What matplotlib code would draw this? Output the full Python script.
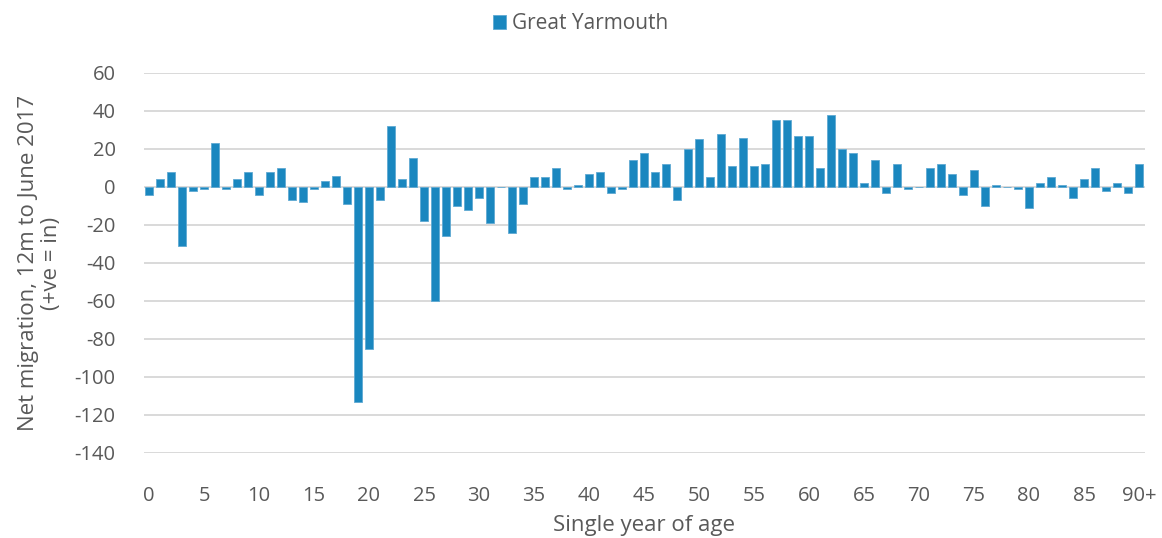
import matplotlib.pyplot as plt
import numpy as np

plt.rcParams['font.family'] = ['Open Sans', 'DejaVu Sans']
plt.rcParams['axes.unicode_minus'] = False

# Net migration by single year of age, Great Yarmouth
ages = list(range(91))
net_migration = [
    -4, 4, 8, -31, -2, -1, 23, -1, 4, 8,
    -4, 8, 10, -7, -8, -1, 3, 6, -9, -113,
    -85, -7, 32, 4, 15, -18, -60, -26, -10, -12,
    -6, -19, 0, -24, -9, 5, 5, 10, -1, 1,
    7, 8, -3, -1, 14, 18, 8, 12, -7, 20,
    25, 5, 28, 11, 26, 11, 12, 35, 35, 27,
    27, 10, 38, 20, 18, 2, 14, -3, 12, -1,
    0, 10, 12, 7, -4, 9, -10, 1, 0, -1,
    -11, 2, 5, 1, -6, 4, 10, -2, 2, -3,
    12,
]
tick_ages = list(range(0, 91, 5))
tick_labels = [str(a) for a in tick_ages[:-1]] + ['90+']
y_ticks = list(range(-140, 61, 20))

bar_color = '#1a87bf'
text_color = '#595959'

fig = plt.figure(figsize=(11.62, 5.38), dpi=100)
ax = fig.add_axes([143.5 / 1162, 1 - 453 / 538, 1001 / 1162, 380 / 538])

ax.bar(ages, net_migration, width=0.66, color=bar_color,
       edgecolor='#5fa9d3', linewidth=0.6, label='Great Yarmouth', zorder=3)

ax.set_xlim(-0.5, 90.5)
ax.set_ylim(-140, 60)
ax.set_yticks(y_ticks)
ax.set_xticks(tick_ages)
ax.set_xticklabels(tick_labels)
ax.grid(axis='y', color='#d9d9d9', linewidth=1.4, zorder=0)
ax.set_axisbelow(True)
for s in ax.spines.values():
    s.set_visible(False)
ax.tick_params(axis='both', length=0, labelsize=14.5, colors=text_color)
ax.tick_params(axis='x', pad=24)
ax.tick_params(axis='y', pad=20)

ax.set_xlabel('Single year of age', fontsize=16, color=text_color, labelpad=6)
ax.set_ylabel('Net migration, 12m to June 2017\n(+ve = in)', fontsize=16,
              color=text_color, labelpad=9, linespacing=1.15)

fig.legend(loc='upper center', bbox_to_anchor=(0.5, 1.01), frameon=False,
           fontsize=15, handlelength=0.6, handleheight=0.7, handletextpad=0.3,
           labelcolor=text_color)

fig.savefig('out.png', dpi=100)
